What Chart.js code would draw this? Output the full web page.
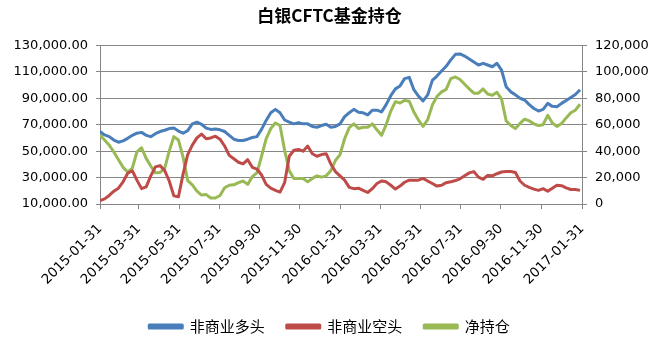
<!DOCTYPE html>
<html>
<head>
<meta charset="utf-8">
<script src="https://cdn.jsdelivr.net/npm/chart.js@4.4.1/dist/chart.umd.min.js"></script>
<style>
  body { margin: 0; background: #fff; }
  #wrap { width: 659px; height: 352px; }
</style>
</head>
<body>
<div id="wrap"><canvas id="chart" width="659" height="352"></canvas></div>
<script>
// Chart text
const chartTitle = "白银CFTC基金持仓";
const seriesNames = ["非商业多头", "非商业空头", "净持仓"];
const tickLabels = ["2015-01-31", "2015-03-31", "2015-05-31", "2015-07-31", "2015-09-30", "2015-11-30",
	"2016-01-31", "2016-03-31", "2016-05-31", "2016-07-31", "2016-09-30", "2016-11-30", "2017-01-31"];

// Weekly data, first week on startDate
const startDate = "2015-01-31";
const longPos = [
	64800, 62260, 60970, 58390, 56770, 57740, 59680, 61940, 63550, 64190,
	61940, 60970, 63230, 64840, 65810, 67100, 67420, 65160, 63550, 65480,
	70650, 71940, 70320, 67420, 66450, 66770, 66130, 64840, 61940, 59030,
	58060, 58060, 59030, 60320, 60970, 66450, 73230, 79030, 81610, 79030,
	73550, 71940, 70650, 71610, 70650, 70650, 68710, 68060, 69350, 70320,
	68060, 68710, 70650, 76130, 79030, 81610, 79350, 79030, 77420, 80970,
	80970, 79680, 85160, 91940, 97100, 99350, 104840, 105810, 96450, 91610,
	88060, 92580, 103550, 106770, 110650, 114190, 119030, 123230, 123550, 121940,
	119680, 117420, 115160, 116450, 115160, 113870, 116450, 111290, 98710, 94840,
	92580, 90000, 88710, 85160, 82260, 80320, 81610, 86130, 83870, 83550,
	86130, 88390, 90650, 92900, 96450
];
const shortPos = [
	12580, 13870, 16450, 19680, 21940, 26770, 33230, 35160, 28060, 21610,
	22900, 31290, 38060, 39030, 35480, 27420, 16130, 15480, 32580, 47420,
	54520, 60000, 62900, 59350, 60000, 61290, 59030, 53870, 46770, 44190,
	41610, 40320, 43550, 37740, 36450, 31940, 24840, 21940, 20320, 19030,
	26130, 46130, 50650, 51290, 50000, 53870, 48060, 46130, 47420, 48060,
	40320, 34520, 31290, 28060, 22580, 21610, 21940, 20320, 18710, 21610,
	25480, 27420, 26770, 24190, 21290, 23550, 26450, 28060, 28060, 28060,
	29350, 27420, 25480, 23550, 24190, 26130, 26770, 27740, 29030, 31290,
	33550, 34520, 30320, 28710, 31610, 31290, 32900, 34190, 34520, 34520,
	33870, 27420, 24190, 22580, 21290, 20320, 21610, 19680, 21940, 24190,
	23870, 22260, 20970, 20970, 20320
];
const netPos = [
	52260, 48390, 44520, 39350, 33550, 27740, 24190, 27100, 39350, 42580,
	34520, 28710, 23550, 23870, 26770, 40000, 50970, 48390, 35480, 17740,
	14520, 9680, 6770, 7100, 4520, 4520, 6450, 12260, 14190, 14520,
	16130, 17420, 14840, 20650, 23550, 36130, 49350, 57100, 61290, 59350,
	40650, 25160, 19350, 19350, 19350, 16770, 19350, 21290, 20320, 21290,
	25160, 32900, 37420, 49350, 57740, 60650, 57100, 58060, 58060, 60650,
	56130, 51940, 60000, 70320, 77420, 76450, 78390, 77740, 69680, 63550,
	58710, 63870, 74840, 81290, 84840, 86770, 94840, 96130, 94190, 90650,
	87100, 83870, 83870, 87100, 83230, 82260, 84520, 79350, 62900, 59350,
	57100, 60970, 64190, 62900, 60650, 59350, 60000, 67100, 61290, 58710,
	60970, 65160, 69030, 70970, 75480
];

const seriesColors = ["#4a7ebb", "#be4b48", "#98b954"];

const DAY = 86400000;
const t0 = Date.parse(startDate);
const dayOf = (s) => Math.round((Date.parse(s) - t0) / DAY);
const tickDays = tickLabels.map(dayOf);
const toPoints = (arr) => arr.map((v, i) => ({ x: i * 7, y: v }));

function fmt(v, dec) {
	return v.toLocaleString("en-US", { minimumFractionDigits: dec, maximumFractionDigits: dec });
}

Chart.defaults.font.family = "'DejaVu Sans', sans-serif";
Chart.defaults.font.size = 13;
Chart.defaults.color = "#000";

const gridColor = "#868686";

const datasets = [longPos, shortPos, netPos].map((arr, k) => ({
	label: seriesNames[k],
	data: toPoints(arr),
	borderColor: seriesColors[k],
	backgroundColor: seriesColors[k],
	borderWidth: 3,
	pointRadius: 0,
	tension: 0,
	borderJoinStyle: "round",
	yAxisID: k === 2 ? "y2" : "y",
}));

new Chart(document.getElementById("chart"), {
	type: "line",
	data: { datasets: datasets },
	options: {
		responsive: false,
		animation: false,
		layout: { padding: { top: 0, bottom: 8, left: 0, right: 0 } },
		plugins: {
			title: {
				display: true,
				text: chartTitle,
				font: { family: "'Noto Sans CJK SC', sans-serif", size: 17, weight: "bold" },
				color: "#000",
				padding: { top: 5, bottom: 20 },
			},
			legend: {
				position: "bottom",
				labels: {
					boxWidth: 33,
					boxHeight: 3,
					padding: 22,
					font: { family: "'Noto Sans CJK SC', sans-serif", size: 15 },
					color: "#000",
				},
			},
			tooltip: { enabled: false },
		},
		scales: {
			x: {
				type: "linear",
				min: 0,
				max: tickDays[tickDays.length - 1],
				afterBuildTicks: (axis) => {
					axis.ticks = tickDays.map((d) => ({ value: d }));
				},
				afterFit: (axis) => { axis.height = 93; },
				ticks: {
					autoSkip: false,
					minRotation: 45,
					maxRotation: 45,
					padding: 12,
					font: { size: 13.5 },
					callback: (v) => tickLabels[tickDays.indexOf(v)],
				},
				grid: { drawOnChartArea: false, drawTicks: true, tickLength: 5, color: gridColor },
				border: { color: gridColor, width: 1 },
			},
			y: {
				position: "left",
				min: 10000,
				max: 130000,
				afterFit: (axis) => { axis.width = 100; },
				ticks: { stepSize: 20000, padding: 8, callback: (v) => fmt(v, 2) },
				grid: { color: gridColor, tickLength: 4 },
				border: { color: gridColor, width: 1 },
			},
			y2: {
				position: "right",
				min: 0,
				max: 120000,
				afterFit: (axis) => { axis.width = 77; },
				ticks: { stepSize: 20000, padding: 8, callback: (v) => fmt(v, 0) },
				grid: { drawOnChartArea: false, tickLength: 5, color: gridColor },
				border: { color: gridColor, width: 1 },
			},
		},
	},
});
</script>
</body>
</html>
